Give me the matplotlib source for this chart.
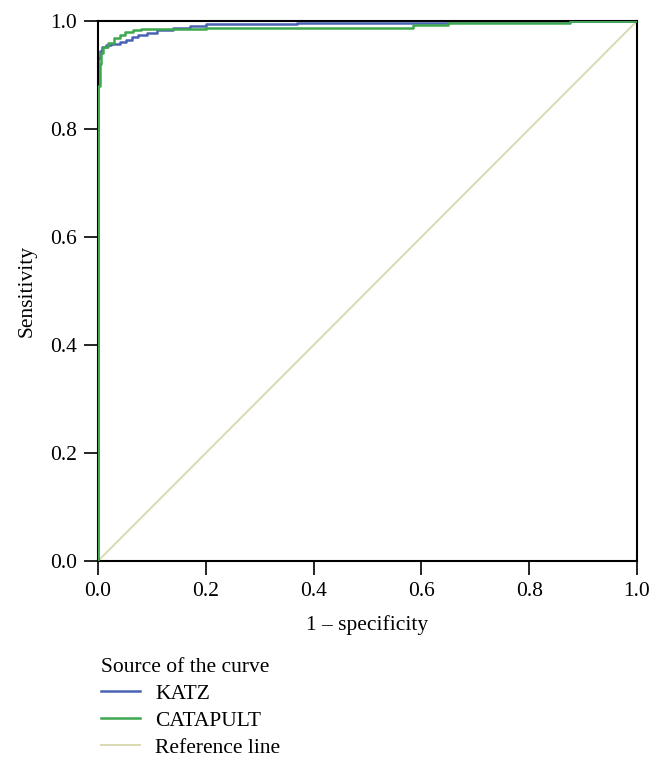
import matplotlib.pyplot as plt

# ROC points (1 - specificity, sensitivity)
katz_fpr = [0.0, 0.0, 0.004, 0.008, 0.015, 0.025, 0.040, 0.052, 0.063, 0.075, 0.090, 0.110, 0.140, 0.170, 0.200, 0.370, 0.650, 0.870, 1.0]
katz_tpr = [0.0, 0.920, 0.932, 0.945, 0.952, 0.956, 0.958, 0.961, 0.964, 0.970, 0.974, 0.978, 0.983, 0.987, 0.990, 0.995, 0.997, 1.0, 1.0]

cat_fpr = [0.0, 0.0, 0.003, 0.006, 0.010, 0.018, 0.030, 0.040, 0.050, 0.065, 0.080, 0.120, 0.200, 0.585, 0.650, 0.876, 1.0]
cat_tpr = [0.0, 0.750, 0.880, 0.920, 0.940, 0.952, 0.960, 0.968, 0.975, 0.980, 0.983, 0.985, 0.985, 0.987, 0.992, 0.996, 1.0]

ref_x = [0.0, 1.0]
ref_y = [0.0, 1.0]

ticks = [0.0, 0.2, 0.4, 0.6, 0.8, 1.0]

plt.rcParams['font.family'] = ['Liberation Serif', 'DejaVu Serif']
fs = 15.5

fig = plt.figure(figsize=(6.65, 7.64), dpi=100)
ax = fig.add_axes([0.1474, 0.2657, 0.8105, 0.7068])

ax.plot(ref_x, ref_y, color="#d9dab0", lw=1.4, label="Reference line", zorder=1)
ax.plot(katz_fpr, katz_tpr, color="#4a62b4", lw=1.8, drawstyle="steps-pre", label="KATZ", zorder=2)
ax.plot(cat_fpr, cat_tpr, color="#3da84e", lw=1.8, drawstyle="steps-pre", label="CATAPULT", zorder=3)

ax.set_xlim(0, 1)
ax.set_ylim(0, 1)
ax.set_xticks(ticks)
ax.set_yticks(ticks)
ax.set_xticklabels([f"{t:.1f}" for t in ticks], fontsize=fs)
ax.set_yticklabels([f"{t:.1f}" for t in ticks], fontsize=fs)
ax.tick_params(direction="out", length=10, width=1.2, pad=5)
for s in ax.spines.values():
    s.set_linewidth(1.5)

ax.set_xlabel("1 \u2013 specificity", fontsize=fs, labelpad=10)
ax.set_ylabel("Sensitivity", fontsize=fs, labelpad=10)

handles, labels = ax.get_legend_handles_labels()
order = [1, 2, 0]
leg = ax.legend([handles[i] for i in order], [labels[i] for i in order],
                title="Source of the curve", loc="upper left",
                bbox_to_anchor=(-0.01, -0.163), frameon=False,
                fontsize=fs, title_fontsize=fs, handlelength=1.8,
                handletextpad=0.7, labelspacing=0.32, borderaxespad=0)
leg._legend_box.align = "left"

fig.savefig("out.png", dpi=100)
